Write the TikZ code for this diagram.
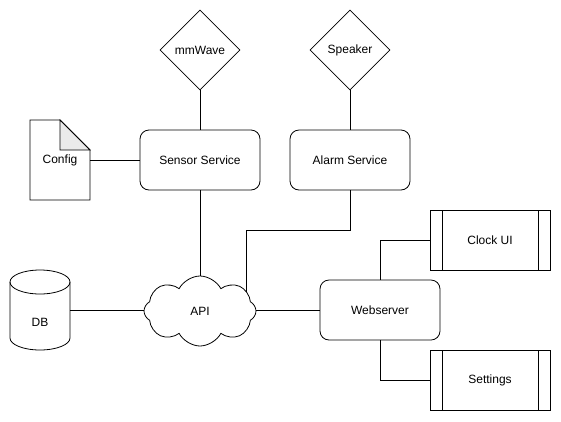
\documentclass[tikz,border=0pt]{standalone}
\usepackage{fontspec}
\setmainfont{Liberation Sans}
\usetikzlibrary{shapes.geometric}
\usetikzlibrary{shapes.symbols}

\begin{document}
\begin{tikzpicture}[x=1pt,y=-1pt,line width=0.8pt]

	\tikzset{every node/.style = {font=\fontsize{12}{14}\selectfont}}
	\tikzset{service/.style = {shape=rectangle,draw,rounded corners=9pt,minimum width=120pt,minimum height=60pt}}
	\tikzset{device/.style = {shape=diamond,draw,aspect=1,minimum size=80pt,inner sep=0pt}}
	\tikzset{screen/.style = {shape=rectangle,draw,minimum width=120pt,minimum height=60pt,
		path picture={\draw ([xshift=12pt]path picture bounding box.north west) -- ([xshift=12pt]path picture bounding box.south west);
			\draw ([xshift=-12pt]path picture bounding box.north east) -- ([xshift=-12pt]path picture bounding box.south east);}}}
	\tikzset{store/.style = {shape=rectangle,outer sep=0pt,minimum width=60pt,minimum height=80pt}}

	\useasboundingbox (0,0) rectangle (561,421);

	% vertices
	\node[device] (mmwave) at (200,50) {mmWave};
	\node[device] (speaker) at (350,50) {Speaker};
	\node[service] (sensor) at (200,160) {Sensor Service};
	\node[service] (alarm) at (350,160) {Alarm Service};
	\node[store] (cfg) at (60,160) {Config};
	\node[store,label={[yshift=-12pt]center:DB}] (db) at (40,310) {};
	\node[cloud,draw,cloud puffs=8,cloud puff arc=125,cloud ignores aspect,
		minimum width=112pt,minimum height=70pt] (api) at (200,311) {API};
	\node[service] (web) at (380,310) {Webserver};
	\node[screen] (clock) at (490,240) {Clock UI};
	\node[screen] (settings) at (490,380) {Settings};
	\coordinate (tap) at (246,292);

	% config sheet
	\draw (cfg.north west) -- ([xshift=-30pt]cfg.north east) -- ([yshift=-30pt]cfg.north east)
		-- (cfg.south east) -- (cfg.south west) -- cycle;
	\draw[fill=black!8] ([xshift=-30pt]cfg.north east) -- ([xshift=-30pt,yshift=-30pt]cfg.north east)
		-- ([yshift=-30pt]cfg.north east) -- cycle;

	% db drum
	\draw ([yshift=-12pt]db.north west) arc[start angle=180,end angle=0,x radius=30pt,y radius=12pt]
		-- ([yshift=12pt]db.south east) arc[start angle=0,end angle=-180,x radius=30pt,y radius=12pt] -- cycle;
	\draw ([yshift=-12pt]db.north west) arc[start angle=180,end angle=360,x radius=30pt,y radius=12pt];

	%edges
	\draw (mmwave) -- (sensor);
	\draw (speaker) -- (alarm);
	\draw (cfg) -- (sensor);
	\draw (sensor) -- (sensor |- api.north);
	\draw (alarm.south) -- ++(0,40) -| (tap);
	\draw (db) -- (db -| api.west);
	\draw (web) -- (web -| api.east);
	\draw (web.north) |- (clock);
	\draw (web.south) |- (settings);
\end{tikzpicture}
\end{document}
